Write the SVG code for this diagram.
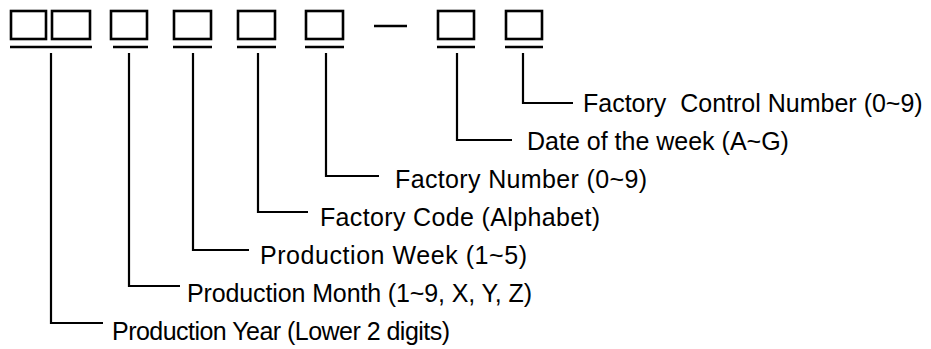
<svg xmlns="http://www.w3.org/2000/svg" width="931" height="349" viewBox="0 0 931 349">
<style>
.box{fill:none;stroke:#000;stroke-width:2.6}
.ul{stroke:#000;stroke-width:2.4;fill:none}
.ln{stroke:#000;stroke-width:2.2;fill:none}
.lbl{font-family:"Liberation Sans",Arial,sans-serif;font-size:25px;fill:#000;white-space:pre}
</style>
<rect width="931" height="349" fill="#fff"/>
<g id="code">
<g id="box-year"><rect class="box" x="11" y="11" width="35" height="28"/><rect class="box" x="52" y="11" width="38" height="28"/><line class="ul" x1="10" y1="47" x2="92" y2="47"/></g>
<g id="box-month"><rect class="box" x="111" y="11" width="36" height="28"/><line class="ul" x1="113" y1="47" x2="148" y2="47"/></g>
<g id="box-week"><rect class="box" x="174" y="11" width="37" height="28"/><line class="ul" x1="173" y1="47" x2="212" y2="47"/></g>
<g id="box-fcode"><rect class="box" x="238" y="11" width="37" height="28"/><line class="ul" x1="237" y1="47" x2="276" y2="47"/></g>
<g id="box-fnum"><rect class="box" x="306" y="11" width="37" height="28"/><line class="ul" x1="305" y1="47" x2="344" y2="47"/></g>
<g id="dash"><line class="ul" x1="374" y1="26" x2="407" y2="26"/></g>
<g id="box-date"><rect class="box" x="438" y="11" width="36" height="28"/><line class="ul" x1="437" y1="47" x2="475" y2="47"/></g>
<g id="box-fctrl"><rect class="box" x="506" y="11" width="36" height="28"/><line class="ul" x1="505" y1="47" x2="543" y2="47"/></g>
</g>
<g id="connectors">
<polyline class="ln" points="523,53 523,103 573,103"/>
<polyline class="ln" points="457,53 457,140 512,140"/>
<polyline class="ln" points="326,53 326,176 379,176"/>
<polyline class="ln" points="258,53 258,212 308,212"/>
<polyline class="ln" points="193,53 193,250 249,250"/>
<polyline class="ln" points="129,53 129,286 180,286"/>
<polyline class="ln" points="51,53 51,323 103,323"/>
</g>
<g id="labels">
<text class="lbl" x="583" y="112" xml:space="preserve">Factory  Control Number (0~9)</text>
<text class="lbl" x="527" y="150">Date of the week (A~G)</text>
<text class="lbl" x="395" y="188" textLength="252" lengthAdjust="spacing">Factory Number (0~9)</text>
<text class="lbl" x="320" y="226" textLength="280" lengthAdjust="spacing">Factory Code (Alphabet)</text>
<text class="lbl" x="260" y="264" textLength="267" lengthAdjust="spacing">Production Week (1~5)</text>
<text class="lbl" x="187" y="302" textLength="345" lengthAdjust="spacing">Production Month (1~9, X, Y, Z)</text>
<text class="lbl" x="112" y="340" textLength="338" lengthAdjust="spacing">Production Year (Lower 2 digits)</text>
</g>
</svg>
